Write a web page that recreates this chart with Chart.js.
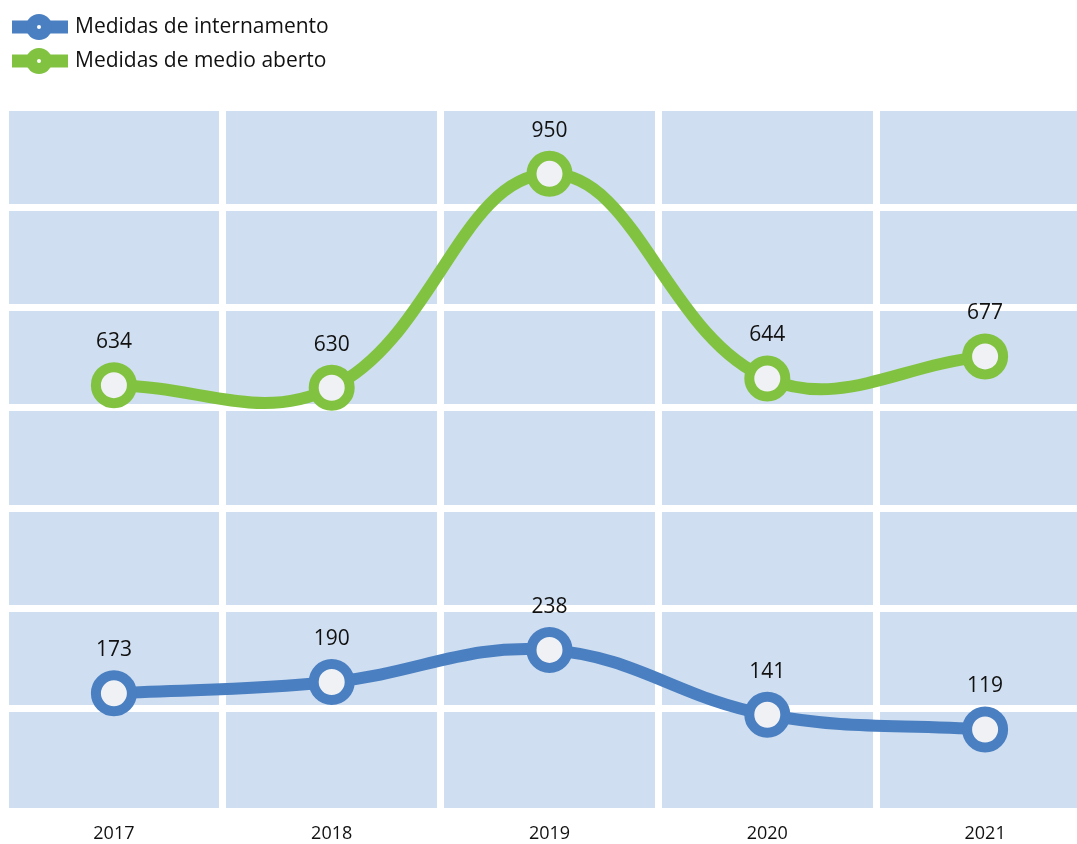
<!DOCTYPE html>
<html>
<head>
<meta charset="utf-8">
<script src="https://cdn.jsdelivr.net/npm/chart.js@4"></script>
<style>
  html, body { margin: 0; padding: 0; background: #fff; overflow: hidden; }
</style>
</head>
<body>
<canvas id="myChart" width="1099" height="844"></canvas>
<script>
const years = ['2017', '2018', '2019', '2020', '2021']
const internamento = [173, 190, 238, 141, 119]
const medioAberto = [634, 630, 950, 644, 677]
const seriesNames = ['Medidas de internamento', 'Medidas de medio aberto']

const blue = '#4a7fc1'
const green = '#81c341'
const plotBg = '#cfdef0'
const FONT = "'Open Sans', sans-serif"

const plotBackground = {
  id: 'plotBackground',
  beforeDraw(chart) {
    const { ctx, chartArea } = chart
    ctx.save()
    ctx.fillStyle = plotBg
    ctx.fillRect(chartArea.left, chartArea.top, chartArea.width, chartArea.height)
    ctx.restore()
  }
}

// legend stacked in the top-left corner: thick line with a ring, then the name
const stackedLegend = {
  id: 'stackedLegend',
  afterDraw(chart) {
    const { ctx } = chart
    ctx.save()
    chart.data.datasets.forEach((ds, i) => {
      const y = 27 + i * 34
      ctx.fillStyle = ds.borderColor
      ctx.fillRect(12, y - 6.5, 56, 13)
      ctx.beginPath()
      ctx.arc(39, y, 13, 0, Math.PI * 2)
      ctx.fill()
      ctx.fillStyle = '#fff'
      ctx.beginPath()
      ctx.arc(39, y, 2, 0, Math.PI * 2)
      ctx.fill()
      ctx.fillStyle = '#111'
      ctx.font = `21px ${FONT}`
      ctx.textAlign = 'left'
      ctx.textBaseline = 'middle'
      ctx.fillText(ds.label, 75, y)
    })
    ctx.restore()
  }
}

const valueLabels = {
  id: 'valueLabels',
  afterDatasetsDraw(chart) {
    const { ctx } = chart
    ctx.save()
    ctx.font = `21px ${FONT}`
    ctx.fillStyle = '#111'
    ctx.textAlign = 'center'
    ctx.textBaseline = 'middle'
    chart.data.datasets.forEach((ds, i) => {
      chart.getDatasetMeta(i).data.forEach((pt, j) => {
        ctx.fillText(String(ds.data[j]), pt.x, pt.y - 43)
      })
    })
    ctx.restore()
  }
}

const lineDataset = (label, data, color) => ({
  label: label,
  data: data,
  borderColor: color,
  backgroundColor: color,
  borderWidth: 12,
  tension: 0.4,
  pointRadius: 18,
  pointHoverRadius: 18,
  pointBorderWidth: 10,
  pointBackgroundColor: '#f0f1f4',
  pointBorderColor: color
})

const ctx = document.getElementById('myChart')

const myChart = new Chart(ctx, {
  type: 'line',
  data: {
    labels: years,
    datasets: [
      lineDataset(seriesNames[0], internamento, blue),
      lineDataset(seriesNames[1], medioAberto, green)
    ]
  },
  options: {
    responsive: false,
    animation: false,
    layout: { autoPadding: false, padding: { left: 5, right: 5, top: 107, bottom: 0 } },
    plugins: {
      tooltip: { enabled: false },
      legend: { display: false }
    },
    scales: {
      x: {
        offset: true,
        afterFit(scale) { scale.height = 35 },
        grid: { offset: true, color: '#fff', lineWidth: 7, drawTicks: false },
        border: { display: false },
        ticks: { color: '#111', padding: 14, font: { family: FONT, size: 18 } }
      },
      y: {
        min: 0,
        max: 1050,
        ticks: { stepSize: 150, display: false },
        grid: {
          color: '#fff',
          lineWidth: (c) => (c.tick && c.tick.value === 0 ? 2 : 7),
          drawTicks: false
        },
        border: { display: false }
      }
    }
  },
  plugins: [plotBackground, stackedLegend, valueLabels]
})
</script>
</body>
</html>
